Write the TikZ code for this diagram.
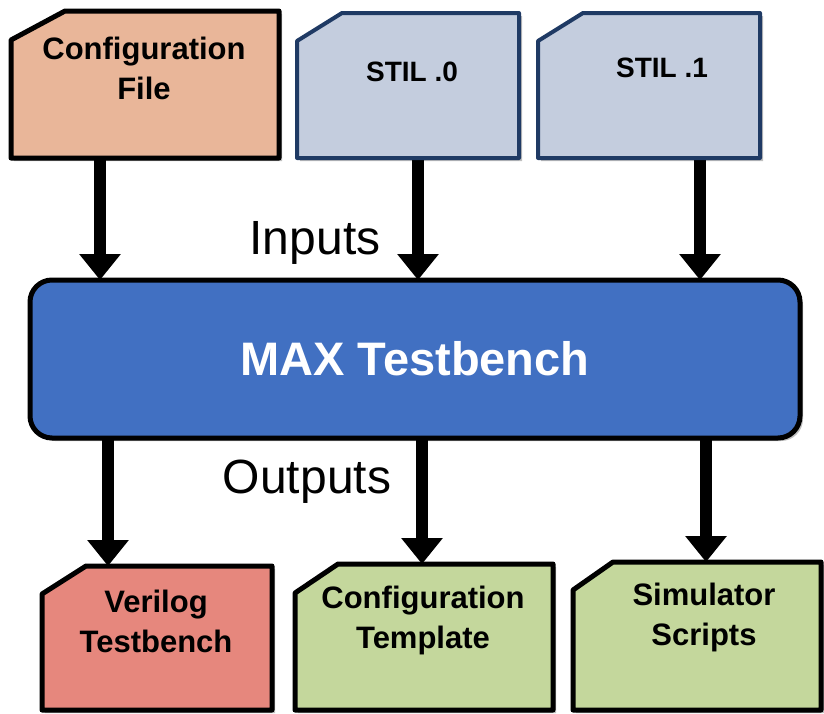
\documentclass[tikz,border=0pt]{standalone}
\usepackage{fontspec}
\setmainfont{Liberation Sans}
\usetikzlibrary{arrows.meta}
\definecolor{peach}{HTML}{E9B699}
\definecolor{stilfill}{HTML}{C4CDDE}
\definecolor{navy}{HTML}{1F3A64}
\definecolor{mainblue}{HTML}{4170C2}
\definecolor{salmon}{HTML}{E6877D}
\definecolor{sage}{HTML}{C4D79C}
\tikzset{
  frame/.style={inner sep=0pt, outer sep=0pt},
  docline/.style={line width=5pt, line join=round, draw=black,
    preaction={fill=black, opacity=.25, transform canvas={xshift=3pt,yshift=-3pt}}},
  lbl/.style={align=center, font=\fontsize{31}{40}\selectfont\bfseries},
  mainbox/.style={draw=black, line width=5pt, fill=mainblue, rounded corners=22pt,
    minimum width=770pt, minimum height=158pt, inner sep=0pt, outer sep=0pt,
    text=white, font=\fontsize{47}{50}\selectfont\bfseries,
    preaction={fill=black, opacity=.25, transform canvas={xshift=3pt,yshift=-3pt}}},
  arr/.style={line width=12pt, -{Triangle[width=40pt,length=26pt]}},
  side/.style={font=\fontsize{48}{50}\selectfont}
}
\begin{document}
\begin{tikzpicture}[x=1pt,y=-1pt]
\useasboundingbox (0,0) rectangle (824,713);
% anchor frames for the document boxes
\node[frame, minimum width=268pt, minimum height=147pt] (cfg) at (145,84.5) {};
\node[frame, minimum width=222pt, minimum height=145pt] (stila) at (408,85.5) {};
\node[frame, minimum width=222pt, minimum height=145pt] (stilb) at (649,85.5) {};
\node[frame, minimum width=230pt, minimum height=144pt] (ver) at (157,638) {};
\node[frame, minimum width=258pt, minimum height=146pt] (tpl) at (424,637) {};
\node[frame, minimum width=248pt, minimum height=148pt] (sim) at (697,636) {};
% main box
\node[mainbox] (main) at (415,359) {MAX Testbench};
% arrows
\draw[arr] ([xshift=-45pt]cfg.south) -- ([xshift=-45pt]cfg.south |- main.north);
\draw[arr] ([xshift=10pt]stila.south) -- ([xshift=10pt]stila.south |- main.north);
\draw[arr] ([xshift=51pt]stilb.south) -- ([xshift=51pt]stilb.south |- main.north);
\draw[arr] ([xshift=-49pt]ver.north |- main.south) -- ([xshift=-49pt]ver.north);
\draw[arr] ([xshift=-2pt]tpl.north |- main.south) -- ([xshift=-2pt]tpl.north);
\draw[arr] ([xshift=9pt]sim.north |- main.south) -- ([xshift=9pt]sim.north);
% document shapes
\path[docline, fill=peach] (cfg.south west) -- (cfg.south east) -- (cfg.north east)
  -- ([xshift=54pt]cfg.north west) -- ([yshift=-29pt]cfg.north west) -- cycle;
\path[docline, draw=navy, line width=4pt, fill=stilfill] (stila.south west) -- (stila.south east) -- (stila.north east)
  -- ([xshift=45pt]stila.north west) -- ([yshift=-28pt]stila.north west) -- cycle;
\path[docline, draw=navy, line width=4pt, fill=stilfill] (stilb.south west) -- (stilb.south east) -- (stilb.north east)
  -- ([xshift=45pt]stilb.north west) -- ([yshift=-28pt]stilb.north west) -- cycle;
\path[docline, fill=salmon] (ver.south west) -- (ver.south east) -- (ver.north east)
  -- ([xshift=44pt]ver.north west) -- ([yshift=-28pt]ver.north west) -- cycle;
\path[docline, fill=sage] (tpl.south west) -- (tpl.south east) -- (tpl.north east)
  -- ([xshift=43pt]tpl.north west) -- ([yshift=-29pt]tpl.north west) -- cycle;
\path[docline, fill=sage] (sim.south west) -- (sim.south east) -- (sim.north east)
  -- ([xshift=40pt]sim.north west) -- ([yshift=-28pt]sim.north west) -- cycle;
% labels
\node[lbl] (cfgtxt) at (144,68) {Configuration\\File};
\node[lbl, font=\fontsize{28}{30}\selectfont\bfseries] (stilatxt) at (412,72) {STIL .0};
\node[lbl, font=\fontsize{28}{30}\selectfont\bfseries] (stilbtxt) at (662,68) {STIL .1};
\node[lbl] (vertxt) at (156,621) {Verilog\\Testbench};
\node[lbl] (tpltxt) at (423,620) {Configuration\\Template};
\node[lbl] (simtxt) at (704,617) {Simulator\\Scripts};
\node[side] (inputs) at (315,243) {Inputs};
\node[side] (outputs) at (307,482) {Outputs};
\end{tikzpicture}
\end{document}
